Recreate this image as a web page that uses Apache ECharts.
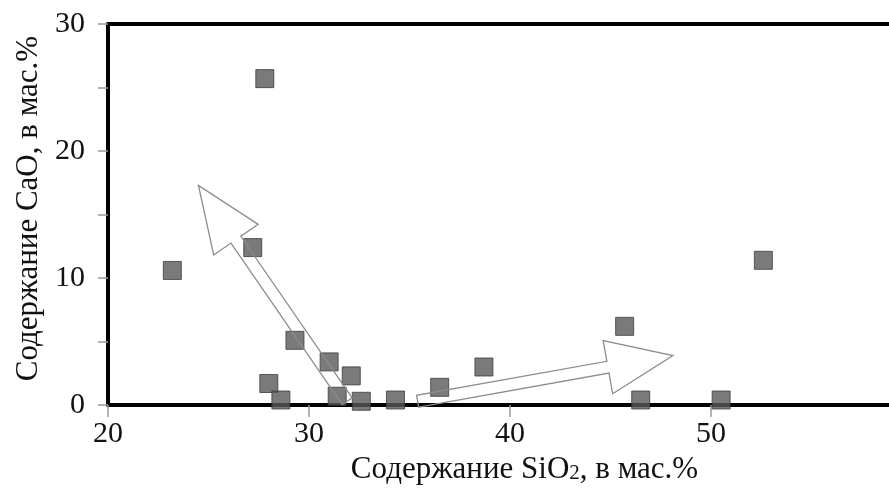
<!DOCTYPE html>
<html>
<head>
<meta charset="utf-8">
<script src="https://cdn.jsdelivr.net/npm/echarts@6/dist/echarts.min.js"></script>
<style>
  html, body { margin: 0; padding: 0; background: #fff; }
  #chart { width: 889px; height: 490px; }
</style>
</head>
<body>
<div id="chart"></div>
<script>
// SiO2 (x) и CaO (y), мас.%
const sio2 = [27.8, 23.2, 27.2, 29.3, 31.0, 32.1, 28.0, 28.6, 31.4, 32.6, 34.3, 36.5, 38.7, 45.7, 46.5, 50.5, 52.6];
const cao  = [25.7, 10.6, 12.4, 5.1, 3.4, 2.3, 1.7, 0.4, 0.7, 0.3, 0.4, 1.4, 3.0, 6.2, 0.4, 0.4, 11.4];

// стрелки тренда: начало и конец в координатах осей
const arrowTails = [[31.9, 0.3], [35.4, 0.3]];
const arrowTips  = [[24.5, 17.3], [48.1, 3.9]];

const xTicks = [20, 30, 40, 50];
const yTicks = [0, 10, 20, 30];
const yMinorTicks = [0, 5, 10, 15, 20, 25, 30];

const points = sio2.map((v, i) => [v, cao[i]]);
const arrows = arrowTails.map((t, i) => [t[0], t[1], arrowTips[i][0], arrowTips[i][1]]);

const font = 'Liberation Serif';

function renderArrow(params, api) {
  const p0 = api.coord([api.value(0), api.value(1)]);
  const p1 = api.coord([api.value(2), api.value(3)]);
  const dx = p1[0] - p0[0], dy = p1[1] - p0[1];
  const len = Math.sqrt(dx * dx + dy * dy);
  const ux = dx / len, uy = dy / len;
  const nx = -uy, ny = ux;
  const w = 6, h = 27, L = 66;  // полуширина стрелы, полуширина наконечника, длина наконечника
  const bx = p1[0] - ux * L, by = p1[1] - uy * L;
  const pts = [
    [p0[0] + nx * w, p0[1] + ny * w],
    [bx + nx * w, by + ny * w],
    [bx + nx * h, by + ny * h],
    [p1[0], p1[1]],
    [bx - nx * h, by - ny * h],
    [bx - nx * w, by - ny * w],
    [p0[0] - nx * w, p0[1] - ny * w]
  ];
  return {
    type: 'polygon',
    shape: { points: pts },
    style: { fill: 'none', stroke: '#8c8c8c', lineWidth: 1.3 }
  };
}

const chart = echarts.init(document.getElementById('chart'));
chart.setOption({
  animation: false,
  backgroundColor: '#fff',
  grid: { left: 108, right: 0, top: 24, bottom: 84 },
  xAxis: [{
    type: 'value',
    min: 20, max: 58.85, interval: 10,
    name: 'Содержание SiO{s|2}, в мас.%',
    nameLocation: 'middle', nameGap: 48,
    nameTextStyle: {
      fontFamily: font, fontSize: 31, color: '#111',
      padding: [0, 0, 0, 52],
      rich: { s: { fontFamily: font, fontSize: 21, color: '#111', padding: [8, 0, 0, 0] } }
    },
    axisLine: { show: true, onZero: false, lineStyle: { color: '#000', width: 4 } },
    axisTick: { show: true, length: 12, customValues: xTicks, lineStyle: { color: '#999', width: 1.5 } },
    axisLabel: {
      fontFamily: font, fontSize: 30, color: '#111', margin: 14,
      customValues: xTicks
    },
    splitLine: { show: false }
  }, {
    type: 'value', position: 'top',
    min: 20, max: 58.85,
    axisLine: { show: true, onZero: false, lineStyle: { color: '#000', width: 4 } },
    axisTick: { show: false }, axisLabel: { show: false }, splitLine: { show: false }
  }],
  yAxis: {
    type: 'value',
    min: 0, max: 30, interval: 5,
    name: 'Содержание CaO, в мас.%',
    nameLocation: 'middle', nameGap: 64,
    nameTextStyle: { fontFamily: font, fontSize: 31, color: '#111', padding: [0, 0, 0, 12] },
    axisLine: { show: true, onZero: false, lineStyle: { color: '#000', width: 4 } },
    axisTick: { show: true, length: 10, customValues: yMinorTicks, lineStyle: { color: '#999', width: 1.5 } },
    axisLabel: {
      fontFamily: font, fontSize: 30, color: '#111', margin: 23,
      customValues: yTicks
    },
    splitLine: { show: false }
  },
  series: [{
    type: 'scatter',
    data: points,
    symbol: 'rect',
    symbolSize: 18,
    itemStyle: { color: '#595959', borderColor: '#3c3c3c', borderWidth: 1 },
    z: 3
  }, {
    type: 'custom',
    data: arrows,
    renderItem: renderArrow,
    clip: false,
    silent: true,
    z: 4
  }]
});
</script>
</body>
</html>
